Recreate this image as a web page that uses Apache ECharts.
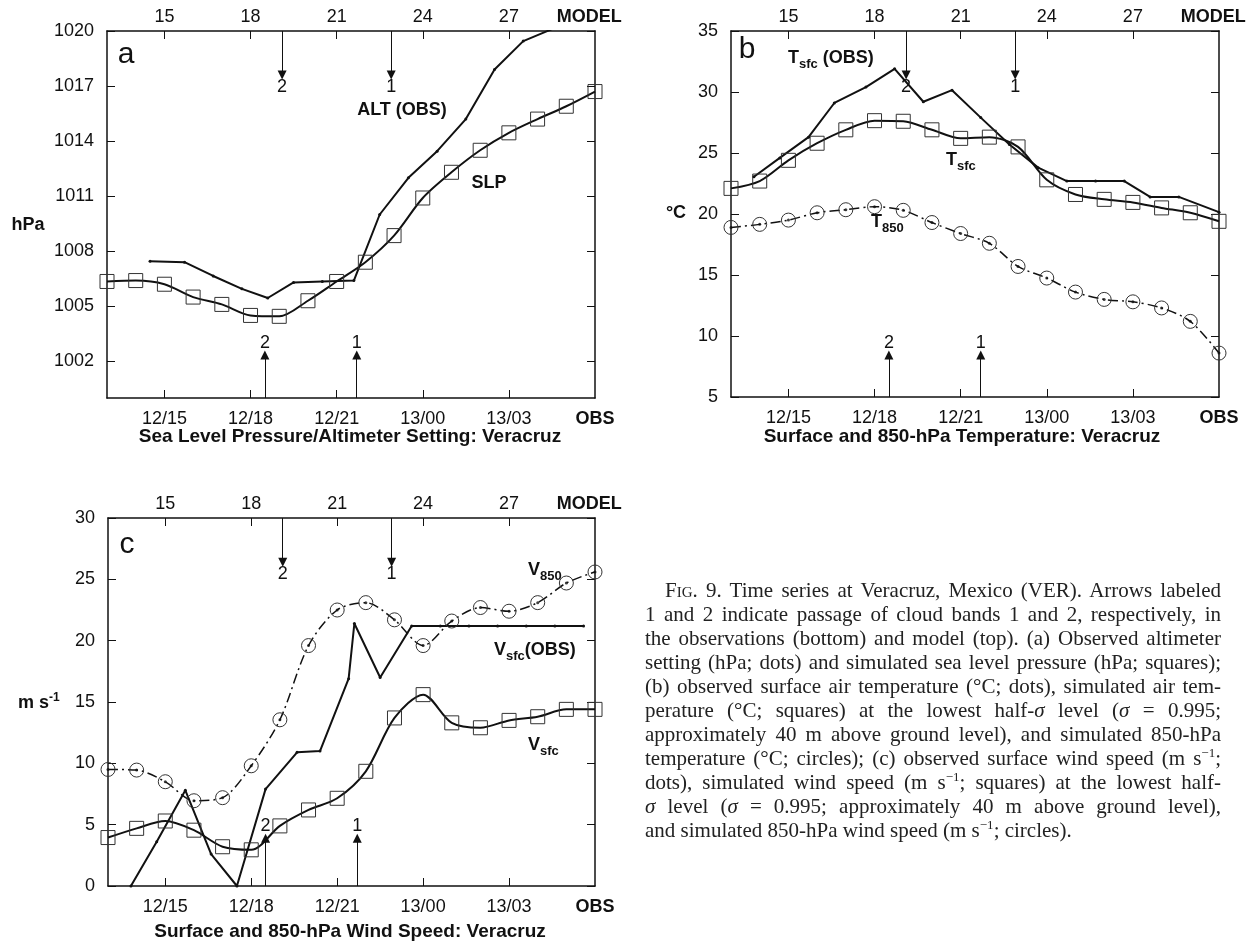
<!DOCTYPE html>
<html>
<head>
<meta charset="utf-8">
<script src="https://cdn.jsdelivr.net/npm/echarts@6/dist/echarts.min.js"></script>
<style>
  html, body { margin: 0; padding: 0; background: #fff; }
  #wrap { position: relative; width: 1255px; height: 947px; }
  #chart { position: absolute; left: 0; top: 0; width: 1255px; height: 947px; }
  #caption { position: absolute; left: 645px; top: 578px; width: 576px;
    font: 21px/24px 'Liberation Serif', 'Times New Roman', serif; color: #222; }
  #caption div { white-space: nowrap; text-align: justify; text-align-last: justify; }
  #caption div.last { text-align-last: left; }
  #caption div.first { text-indent: 20px; }
  #caption sup { font-size: 13px; line-height: 0; vertical-align: 8px; }
  .sc { font-variant: small-caps; }
</style>
</head>
<body>
<div id="wrap">
  <div id="chart"></div>
  <div id="caption">
    <div class="first">F<span class="sc">ig</span>. 9. Time series at Veracruz, Mexico (VER). Arrows labeled</div>
    <div>1 and 2 indicate passage of cloud bands 1 and 2, respectively, in</div>
    <div>the observations (bottom) and model (top). (a) Observed altimeter</div>
    <div>setting (hPa; dots) and simulated sea level pressure (hPa; squares);</div>
    <div>(b) observed surface air temperature (°C; dots), simulated air tem-</div>
    <div>perature (°C; squares) at the lowest half-<i>σ</i> level (<i>σ</i> = 0.995;</div>
    <div>approximately 40 m above ground level), and simulated 850-hPa</div>
    <div>temperature (°C; circles); (c) observed surface wind speed (m s<sup>−1</sup>;</div>
    <div>dots), simulated wind speed (m s<sup>−1</sup>; squares) at the lowest half-</div>
    <div><i>σ</i> level (<i>σ</i> = 0.995; approximately 40 m above ground level),</div>
    <div class="last">and simulated 850-hPa wind speed (m s<sup>−1</sup>; circles).</div>
  </div>
</div>
<script>
const FONT = "'Liberation Sans', Arial, sans-serif";
const INK = '#111';

// model hours (hour 24 = 13/00)
const hours = [13, 14, 15, 16, 17, 18, 19, 20, 21, 22, 23, 24, 25, 26, 27, 28, 29, 30];
const tickHours = [15, 18, 21, 24, 27];
const obsTickHours = [15, 18, 21, 24, 27, 30];
const obsTickLabels = ['12/15', '12/18', '12/21', '13/00', '13/03', 'OBS'];
const modelTickHours = [15, 18, 21, 24, 27, 29.8];
const modelTickLabels = ['15', '18', '21', '24', '27', 'MODEL'];

// cloud band passage arrows
const modelArrowHours = [19.1, 22.9];
const obsArrowHours = [18.5, 21.7];
const arrowLabels = ['2', '1'];

// (a) pressure
const pressTicks = [1002, 1005, 1008, 1011, 1014, 1017, 1020];
const slp = [1006.35, 1006.4, 1006.2, 1005.5, 1005.1, 1004.5, 1004.45, 1005.3, 1006.35,
  1007.4, 1008.85, 1010.9, 1012.3, 1013.5, 1014.45, 1015.2, 1015.9, 1016.7];
const altHours = [14.5, 15.7, 16.7, 17.7, 18.6, 19.5, 20.5, 21.6, 22.5, 23.5, 24.5, 25.5, 26.5, 27.5, 28.5];
const altObs = [1007.45, 1007.4, 1006.65, 1005.95, 1005.45, 1006.3, 1006.35, 1006.4,
  1010.0, 1012.0, 1013.45, 1015.2, 1017.9, 1019.45, 1020.1];

// (b) temperature
const tsfc = [22.1, 22.7, 24.4, 25.8, 26.9, 27.65, 27.6, 26.9, 26.2, 26.3, 25.5, 22.8,
  21.6, 21.2, 20.95, 20.5, 20.1, 19.4];
const t850 = [18.9, 19.15, 19.5, 20.1, 20.35, 20.6, 20.3, 19.3, 18.4, 17.6, 15.7, 14.75,
  13.6, 13.0, 12.8, 12.3, 11.2, 8.6];
const tObsHours = [13.8, 14.7, 15.7, 16.6, 17.7, 18.7, 19.7, 20.7, 21.7, 22.7, 23.7,
  24.7, 25.7, 26.7, 27.6, 28.6, 30];
const tsfcObs = [23.05, 24.6, 26.3, 29.1, 30.4, 31.9, 29.2, 30.15, 27.9, 25.7, 23.8,
  22.7, 22.7, 22.7, 21.4, 21.4, 20.15];

// (c) wind speed
const v850 = [9.5, 9.45, 8.5, 6.95, 7.2, 9.8, 13.55, 19.6, 22.5, 23.1, 21.7, 19.6,
  21.6, 22.7, 22.4, 23.1, 24.7, 25.6];
const vsfc = [3.95, 4.7, 5.3, 4.55, 3.2, 2.95, 4.9, 6.2, 7.15, 9.35, 13.7, 15.6,
  13.3, 12.9, 13.5, 13.8, 14.4, 14.4];
const vObsHours = [13.8, 14.7, 15.7, 16.6, 17.5, 18.5, 19.6, 20.4, 21.4, 21.6, 22.5,
  23.6, 24.6, 25.6, 26.6, 27.6, 28.6, 29.6];
const vsfcObs = [0, 3.6, 7.8, 2.6, 0, 7.9, 10.9, 11.0, 16.9, 21.4, 17.0,
  21.2, 21.2, 21.2, 21.2, 21.2, 21.2, 21.2];

const zip = (xs, ys) => xs.map((x, i) => [x, ys[i]]);

const grids = [
  { left: 107, top: 31, width: 488, height: 367 },
  { left: 731, top: 31, width: 488, height: 366 },
  { left: 108, top: 518, width: 487, height: 368 }
];

const labelText = { color: INK, fontSize: 18, fontFamily: FONT };
const boldRich = { b: { fontWeight: 'bold', fontSize: 18, fontFamily: FONT, color: INK } };

function pick(v, keys, names) {
  const i = keys.findIndex(k => Math.abs(k - v) < 1e-6);
  if (i < 0) return '';
  const t = names[i];
  return (t === 'OBS' || t === 'MODEL') ? '{b|' + t + '}' : t;
}

function xAxes(g) {
  const base = {
    type: 'value', gridIndex: g, min: 13, max: 30, splitLine: { show: false },
    axisLine: { onZero: false, lineStyle: { color: INK, width: 1.5 } },
    axisTick: { inside: true, length: 8, customValues: tickHours, lineStyle: { color: INK } }
  };
  return [
    { ...base, position: 'bottom',
      axisLabel: { ...labelText, margin: 12, customValues: obsTickHours, rich: boldRich,
        formatter: v => pick(v, obsTickHours, obsTickLabels) } },
    { ...base, position: 'top',
      axisLabel: { ...labelText, margin: 5, customValues: modelTickHours, rich: boldRich,
        formatter: v => pick(v, modelTickHours, modelTickLabels) } }
  ];
}

function yAxes(g, min, max, ticks) {
  const base = {
    type: 'value', gridIndex: g, min, max, splitLine: { show: false },
    axisLine: { onZero: false, lineStyle: { color: INK, width: 1.5 } },
    axisTick: { inside: true, length: 8, lineStyle: { color: INK } }
  };
  if (ticks) base.axisTick.customValues = ticks;
  else base.interval = 5;
  const left = { ...base, position: 'left',
    axisLabel: { ...labelText, margin: 13, formatter: v => String(v) } };
  if (ticks) left.axisLabel.customValues = ticks;
  const right = { ...base, position: 'right', axisLabel: { show: false } };
  return [left, right];
}

function arrows(yTop, yBot, topLen, botLen) {
  const data = [];
  modelArrowHours.forEach((h, i) => data.push([
    { name: arrowLabels[i], coord: [h, yTop] }, { coord: [h, yTop - topLen] }]));
  obsArrowHours.forEach((h, i) => data.push([
    { name: arrowLabels[i], coord: [h, yBot] }, { coord: [h, yBot + botLen] }]));
  return {
    silent: true, animation: false, symbol: ['none', 'triangle'], symbolSize: 9,
    lineStyle: { color: INK, width: 1, type: 'solid' },
    label: { show: true, position: 'end', distance: 3, formatter: '{b}', ...labelText },
    emphasis: { disabled: true },
    data
  };
}

const hollow = { color: 'rgba(0,0,0,0)', borderColor: '#333', borderWidth: 1 };

function modelLine(g, ys, symbol, dashed) {
  return {
    type: 'line', xAxisIndex: g * 2, yAxisIndex: g * 2, data: zip(hours, ys),
    smooth: 0.3, symbol, symbolSize: 14, itemStyle: hollow,
    lineStyle: { color: INK, width: dashed ? 1.5 : 2, type: dashed ? [10, 4, 2, 4] : 'solid' }
  };
}
function obsLine(g, xs, ys, extra) {
  return Object.assign({
    type: 'line', xAxisIndex: g * 2, yAxisIndex: g * 2, data: zip(xs, ys),
    symbol: 'circle', symbolSize: 3, itemStyle: { color: INK },
    lineStyle: { color: INK, width: 2 }
  }, extra || {});
}
function centerDots(g, ys) {
  return {
    type: 'scatter', xAxisIndex: g * 2, yAxisIndex: g * 2, data: zip(hours, ys),
    symbol: 'circle', symbolSize: 3, itemStyle: { color: INK }
  };
}

const series = [
  modelLine(0, slp, 'rect', false),
  obsLine(0, altHours, altObs, { markLine: arrows(1020, 1000, 2.4, 2.35) }),

  modelLine(1, tsfc, 'rect', false),
  modelLine(1, t850, 'circle', true),
  centerDots(1, t850),
  obsLine(1, tObsHours, tsfcObs, { markLine: arrows(35, 5, 3.6, 3.45) }),

  modelLine(2, vsfc, 'rect', false),
  modelLine(2, v850, 'circle', true),
  centerDots(2, v850),
  obsLine(2, vObsHours, vsfcObs, { markLine: arrows(30, 0, 3.6, 3.9) })
];

const RICH = {
  m: { fontSize: 18, fontWeight: 'bold', fontFamily: FONT, fill: INK },
  s: { fontSize: 13, fontWeight: 'bold', fontFamily: FONT, fill: INK, padding: [12, 0, 0, 0] },
  p: { fontSize: 12, fontWeight: 'bold', fontFamily: FONT, fill: INK, padding: [0, 0, 10, 0] }
};
function txt(x, y, text, align, font) {
  return {
    type: 'text', x, y, silent: true,
    style: {
      text, fill: INK, font: font || ('bold 18px ' + FONT),
      align: align || 'left', verticalAlign: 'middle',
      textAlign: align || 'left', textVerticalAlign: 'middle', rich: RICH
    }
  };
}
const letterFont = '30px ' + FONT;
const titleFont = 'bold 19px ' + FONT;

const graphic = [
  txt(126, 55, 'a', 'center', letterFont),
  txt(747, 50, 'b', 'center', letterFont),
  txt(127, 545, 'c', 'center', letterFont),
  txt(28, 225, 'hPa', 'center'),
  txt(676, 213, '°C', 'center'),
  txt(18, 703, '{m|m s}{p|-1}', 'left'),
  txt(402, 110, 'ALT (OBS)', 'center'),
  txt(489, 183, 'SLP', 'center'),
  txt(788, 58, '{m|T}{s|sfc}{m| (OBS)}', 'left'),
  txt(946, 160, '{m|T}{s|sfc}', 'left'),
  txt(871, 222, '{m|T}{s|850}', 'left'),
  txt(528, 570, '{m|V}{s|850}', 'left'),
  txt(494, 650, '{m|V}{s|sfc}{m|(OBS)}', 'left'),
  txt(528, 745, '{m|V}{s|sfc}', 'left'),
  txt(350, 437, 'Sea Level Pressure/Altimeter Setting: Veracruz', 'center', titleFont),
  txt(962, 437, 'Surface and 850-hPa Temperature: Veracruz', 'center', titleFont),
  txt(350, 932, 'Surface and 850-hPa Wind Speed: Veracruz', 'center', titleFont)
];

const chart = echarts.init(document.getElementById('chart'), null, { renderer: 'canvas' });
chart.setOption({
  animation: false,
  backgroundColor: '#fff',
  grid: grids,
  xAxis: [...xAxes(0), ...xAxes(1), ...xAxes(2)],
  yAxis: [...yAxes(0, 1000, 1020, pressTicks), ...yAxes(1, 5, 35), ...yAxes(2, 0, 30)],
  series,
  graphic
});
</script>
</body>
</html>
